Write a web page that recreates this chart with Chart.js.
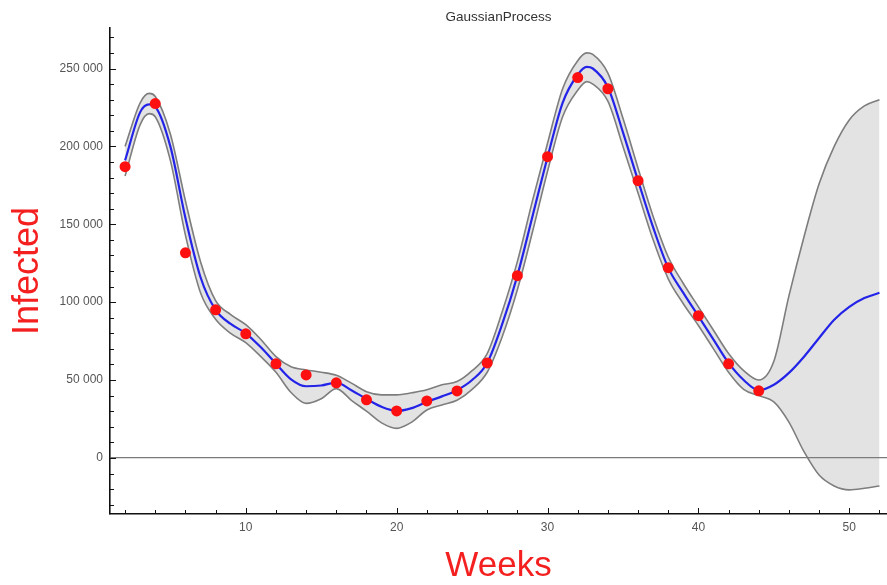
<!DOCTYPE html>
<html>
<head>
<meta charset="utf-8">
<script src="https://cdn.jsdelivr.net/npm/chart.js@4.4.1/dist/chart.umd.min.js"></script>
<style>
  body { margin: 0; background: #fff; }
  canvas { display: block; }
</style>
</head>
<body>
<canvas id="gp-chart" width="887" height="585"></canvas>
<script>
// observed weekly counts (red dots)
const pointWeeks = [2, 4, 6, 8, 10, 12, 14, 16, 18, 20, 22, 24, 26, 28, 30, 32, 34, 36, 38, 40, 42, 44];
const pointInfected = [187000, 227500, 131700, 95100, 79700, 60400, 53300, 48200, 37300, 30200, 36600,
    43000, 61000, 117000, 193400, 244200, 237000, 178000, 122100, 91300, 60400, 43100];

// gaussian process mean and band
const curveWeeks = [2, 3, 3.6, 4, 5, 6, 7, 8, 9, 10, 11, 12, 13, 14, 15, 16, 17, 18, 19, 20, 21, 22, 23, 24,
    25, 26, 27, 28, 29, 30, 31, 32, 32.6, 33, 34, 35, 36, 37, 38, 39, 40, 41, 42, 43, 44, 45, 46, 47, 48,
    49, 50, 51, 52];
const meanInfected = [191000, 222000, 227000, 225500, 200000, 154000, 116000, 95000, 86000, 80000, 71000,
    60500, 50500, 46000, 46500, 48300, 43500, 37900, 32800, 30200, 32000, 36000, 39500, 43500, 50000,
    61000, 86000, 117000, 155000, 193000, 228000, 246000, 251000, 250000, 238000, 209000, 178000, 148000,
    122000, 106000, 91000, 76000, 61000, 50000, 43500, 47000, 54600, 65000, 77000, 88700, 97000, 102600,
    106000];
const upperInfected = [200000, 228000, 234000, 232000, 208000, 165000, 126000, 101000, 92000, 85500, 76000,
    65000, 58500, 56500, 55000, 53000, 48000, 42500, 40500, 40500, 41800, 43700, 47000, 49000, 56000,
    67000, 94000, 126000, 165000, 202000, 237000, 255000, 260000, 259000, 247000, 218000, 186000, 155000,
    129000, 112000, 97000, 82000, 67000, 56000, 50000, 62000, 104000, 142000, 176000, 200000, 217000,
    226000, 230000];
const lowerInfected = [181000, 214000, 221000, 219000, 191000, 143000, 106000, 89000, 80000, 74000, 65000,
    55000, 42000, 35000, 38000, 44500, 37000, 30000, 22500, 19000, 23000, 30800, 34000, 37000, 44000,
    55000, 78000, 108000, 145000, 184000, 219000, 236000, 241600, 240000, 229000, 200000, 170000, 140000,
    115000, 99000, 85000, 70000, 55000, 44000, 40000, 36000, 23000, 4000, -11000, -18000, -20500,
    -19500, -18000];

// labelled ticks
const weekTicks = [10, 20, 30, 40, 50];
const infectedTicks = [0, 50000, 100000, 150000, 200000, 250000];

function toXY(xs, ys) {
    return xs.map((x, i) => ({ x: x, y: ys[i] }));
}

function formatThousands(v) {
    return String(v).replace(/\B(?=(\d{3})+(?!\d))/g, ' ');
}

// small inward tick marks like the original frame
const tickMarks = {
    id: 'tickMarks',
    afterDraw(chart) {
        const { ctx, chartArea, scales } = chart;
        ctx.save();
        ctx.strokeStyle = '#111';
        ctx.lineWidth = 1;
        ctx.beginPath();
        for (let v = 2; v <= 52; v += 2) {
            const px = Math.round(scales.x.getPixelForValue(v)) + 0.5;
            const len = v % 10 === 0 ? 6 : 4;
            ctx.moveTo(px, chartArea.bottom);
            ctx.lineTo(px, chartArea.bottom - len);
        }
        for (let v = -30000; v <= 270000; v += 10000) {
            const py = Math.round(scales.y.getPixelForValue(v)) + 0.5;
            const len = v % 50000 === 0 ? 6 : 4;
            ctx.moveTo(chartArea.left, py);
            ctx.lineTo(chartArea.left + len, py);
        }
        ctx.stroke();
        ctx.restore();
    }
};

new Chart(document.getElementById('gp-chart'), {
    type: 'line',
    data: {
        datasets: [{
            label: 'data',
            data: toXY(pointWeeks, pointInfected),
            showLine: false,
            pointRadius: 5.5,
            pointBackgroundColor: '#ff1010',
            pointBorderWidth: 0,
            order: 0
        }, {
            label: 'mean',
            data: toXY(curveWeeks, meanInfected),
            borderColor: '#2424e8',
            borderWidth: 2.2,
            pointRadius: 0,
            cubicInterpolationMode: 'monotone',
            fill: false,
            order: 1
        }, {
            label: 'upper',
            data: toXY(curveWeeks, upperInfected),
            borderColor: '#7d7d7d',
            borderWidth: 1.6,
            pointRadius: 0,
            cubicInterpolationMode: 'monotone',
            backgroundColor: 'rgba(140,140,140,0.24)',
            fill: '+1',
            order: 2
        }, {
            label: 'lower',
            data: toXY(curveWeeks, lowerInfected),
            borderColor: '#7d7d7d',
            borderWidth: 1.6,
            pointRadius: 0,
            cubicInterpolationMode: 'monotone',
            fill: false,
            order: 3
        }]
    },
    options: {
        responsive: false,
        animation: false,
        layout: { padding: 0, autoPadding: false },
        plugins: {
            legend: { display: false },
            tooltip: { enabled: false },
            title: {
                display: true,
                text: 'GaussianProcess',
                fullSize: false,
                color: '#333',
                font: { family: 'Liberation Sans', size: 13.5, weight: 'normal' },
                padding: { top: 9, bottom: 2.8 }
            }
        },
        scales: {
            x: {
                type: 'linear',
                min: 1,
                max: 52.5,
                afterBuildTicks(scale) { scale.ticks = weekTicks.map(v => ({ value: v })); },
                grid: { display: false, drawTicks: false },
                border: { color: '#111', width: 1.6 },
                ticks: {
                    autoSkip: false,
                    maxRotation: 0,
                    padding: 6,
                    color: '#555',
                    font: { family: 'Liberation Sans', size: 12 },
                    callback: (v) => String(v)
                },
                title: {
                    display: true,
                    text: 'Weeks',
                    color: '#f42020',
                    font: { family: 'Liberation Sans', size: 35, lineHeight: 1 },
                    padding: { top: 0, bottom: 1.5 }
                },
                afterFit(scale) { scale.height = 71; }
            },
            y: {
                min: -36000,
                max: 276000,
                afterBuildTicks(scale) { scale.ticks = infectedTicks.map(v => ({ value: v })); },
                grid: {
                    drawTicks: false,
                    lineWidth: 1.3,
                    color: (c) => (c.tick && c.tick.value === 0 ? '#7a7a7a' : 'rgba(0,0,0,0)')
                },
                border: { color: '#111', width: 1.6 },
                ticks: {
                    autoSkip: false,
                    padding: 7,
                    color: '#555',
                    font: { family: 'Liberation Sans', size: 12 },
                    callback: (v) => formatThousands(v)
                },
                title: {
                    display: true,
                    text: 'Infected',
                    color: '#f42020',
                    font: { family: 'Liberation Sans', size: 36, lineHeight: 1 },
                    padding: { top: 10, bottom: 0 }
                },
                afterFit(scale) { scale.width = 110; }
            }
        }
    },
    plugins: [tickMarks]
});
</script>
</body>
</html>
